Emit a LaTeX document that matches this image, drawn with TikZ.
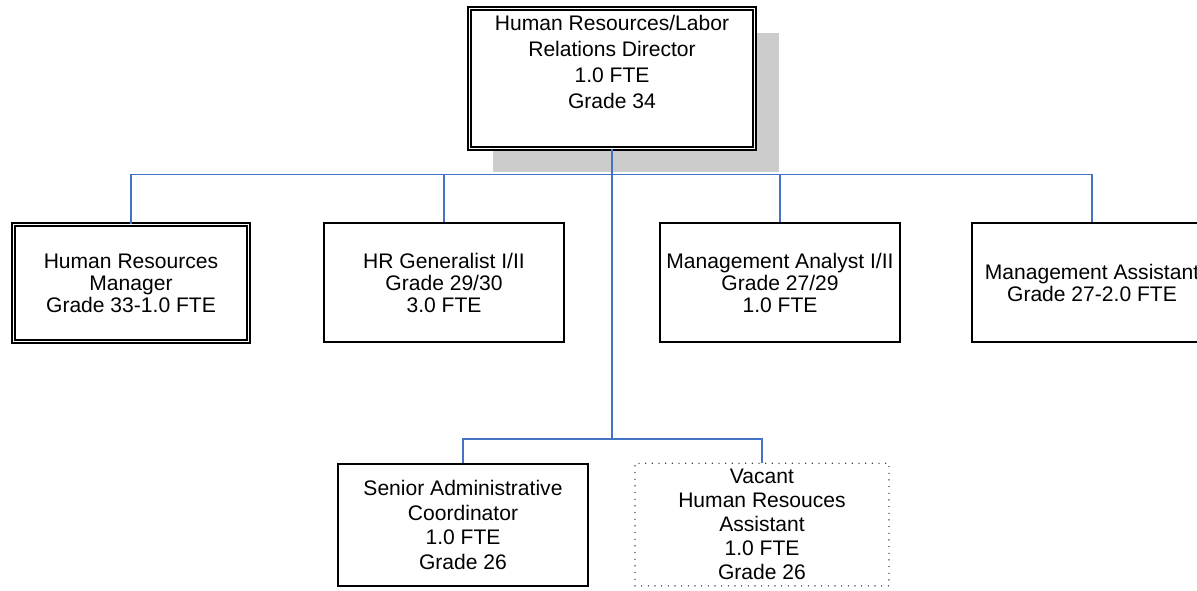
\documentclass[tikz,border=0pt]{standalone}
\usepackage{fontspec}
\setmainfont{Liberation Sans}
\usetikzlibrary{shadows}
\definecolor{linkblue}{RGB}{68,114,196}
\definecolor{shadowgray}{RGB}{204,204,204}
\begin{document}
\begin{tikzpicture}[x=0.75pt, y=-0.75pt,
        post/.style={draw, fill=white, line width=1.3pt, align=center, inner sep=0pt,
            font=\fontsize{15.8}{16.5}\selectfont},
        doublepost/.style={post, double, double distance=0.9pt},
        vacantpost/.style={post, line width=1pt, line cap=round, dash pattern=on 0pt off 5pt},
        link/.style={draw=linkblue, line width=1.1pt}]
    \useasboundingbox (0,0) rectangle (1197,590);

    \node[doublepost, minimum width=214pt, minimum height=104.6pt,
        font=\fontsize{15.8}{19.3}\selectfont,
        drop shadow={shadow xshift=18pt, shadow yshift=-18pt, fill=shadowgray, opacity=1}]
        (dir) at (612,78.5) {Human Resources/Labor\\Relations Director\\1.0 FTE\\Grade 34\\ \strut};

    \node[doublepost, minimum width=176.4pt, minimum height=87.8pt] (mgr) at (131,283)
        {Human Resources\\Manager\\Grade 33-1.0 FTE};
    \node[post, minimum width=180.3pt, minimum height=89.5pt] (gen) at (444,282.5)
        {HR Generalist I/II\\Grade 29/30\\3.0 FTE};
    \node[post, minimum width=180.3pt, minimum height=89.5pt] (ana) at (780,282.5)
        {Management Analyst I/II\\Grade 27/29\\1.0 FTE};
    \node[post, minimum width=180.3pt, minimum height=89.5pt] (ast) at (1092,282.5)
        {Management Assistant\\Grade 27-2.0 FTE};

    \node[post, minimum width=187.8pt, minimum height=91.8pt,
        font=\fontsize{15.8}{18.6}\selectfont] (sac) at (463,525)
        {Senior Administrative\\Coordinator\\1.0 FTE\\Grade 26};
    \node[vacantpost, minimum width=190.5pt, minimum height=92pt,
        font=\fontsize{15.8}{18.1}\selectfont] (vac) at (762,524.5)
        {Vacant\\Human Resouces\\Assistant\\1.0 FTE\\Grade 26};

    \coordinate (upper) at (612,174.5);
    \coordinate (lower) at (612,439);

    \draw[link] (dir.south) -- (lower);
    \draw[link] (mgr.north) |- (upper) -| (ast.north);
    \draw[link] (gen.north) -- (gen.north |- upper);
    \draw[link] (ana.north) -- (ana.north |- upper);
    \draw[link] (sac.north) |- (lower) -| (vac.north);
\end{tikzpicture}
\end{document}
